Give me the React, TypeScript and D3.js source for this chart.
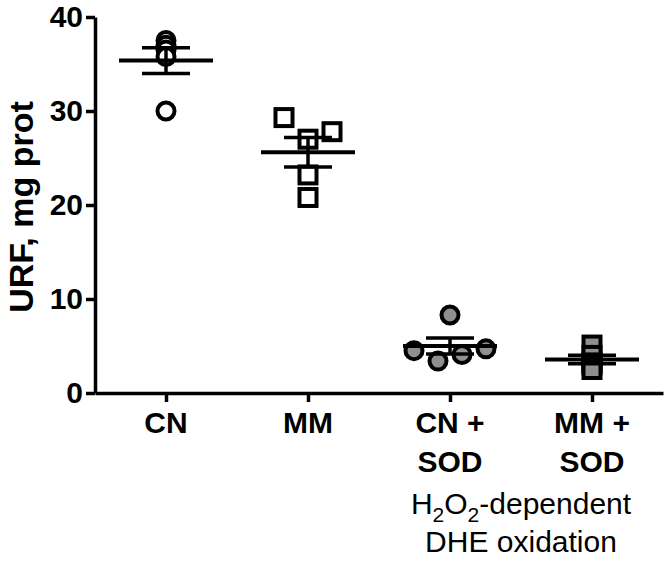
import * as d3 from "d3";
import { useEffect, useRef } from "react";

// groups along the x axis
const categories = ["CN", "MM", "CN + SOD", "MM + SOD"];
const categoryLines = [["CN"], ["MM"], ["CN +", "SOD"], ["MM +", "SOD"]];

// individual values (URF, mg prot)
const cnValues = [37.5, 37.0, 36.5, 35.8, 30.0];
const mmValues = [29.3, 27.8, 27.0, 23.2, 20.8];
const cnSodValues = [8.3, 4.5, 3.4, 4.1, 4.7];
const mmSodValues = [5.1, 4.0, 3.2, 3.0, 2.5];

// horizontal scatter slots (in marker widths) for overlapping points
const cnJitter = [0, 0, 0, 0, 0];
const mmJitter = [-1, 1, 0, 0, 0];
const cnSodJitter = [0, -1.5, -0.5, 0.5, 1.5];
const mmSodJitter = [0, 0, 0, 0, 0];

const yTicks = [0, 10, 20, 30, 40];

const groups = [
  { name: categories[0], values: cnValues, jitter: cnJitter, shape: "circle", fill: "#ffffff" },
  { name: categories[1], values: mmValues, jitter: mmJitter, shape: "square", fill: "#ffffff" },
  { name: categories[2], values: cnSodValues, jitter: cnSodJitter, shape: "circle", fill: "#8f8f8f" },
  { name: categories[3], values: mmSodValues, jitter: mmSodJitter, shape: "square", fill: "#8f8f8f" },
];

const App = () => {
  const ref = useRef(null);

  useEffect(() => {
    const svg = d3.select(ref.current);
    svg.selectAll("*").remove();

    const width = 666;
    const height = 562;
    const left = 95;
    const right = 663;
    const top = 17;
    const bottom = 393;
    const font = "'Liberation Sans', Arial, sans-serif";

    svg.attr("width", width).attr("height", height);

    const x = d3.scalePoint().domain(categories).range([left, right]).padding(0.5);
    const y = d3.scaleLinear().domain([0, 40]).range([bottom, top]);

    // y axis
    const yAxis = svg
      .append("g")
      .attr("transform", `translate(${left},0)`)
      .call(d3.axisLeft(y).tickValues(yTicks).tickSize(9).tickSizeOuter(0).tickPadding(3));
    yAxis.select(".domain").attr("stroke", "#000").attr("stroke-width", 3.5);
    yAxis.selectAll(".tick line").attr("stroke", "#000").attr("stroke-width", 3.5);
    yAxis
      .selectAll(".tick text")
      .attr("fill", "#000")
      .style("font-family", font)
      .style("font-size", "30px")
      .style("font-weight", "bold");

    // x axis
    const xAxis = svg
      .append("g")
      .attr("transform", `translate(0,${bottom})`)
      .call(d3.axisBottom(x).tickSize(9).tickSizeOuter(0).tickFormat(() => ""));
    xAxis.select(".domain").attr("stroke", "#000").attr("stroke-width", 3.5);
    xAxis.selectAll(".tick line").attr("stroke", "#000").attr("stroke-width", 3.5);

    // category labels (two lines for the SOD groups)
    categories.forEach((c, i) => {
      const t = svg
        .append("text")
        .attr("text-anchor", "middle")
        .style("font-family", font)
        .style("font-size", "30px")
        .style("font-weight", "bold");
      categoryLines[i].forEach((line, j) => {
        t.append("tspan").attr("x", x(c)).attr("y", 433 + j * 39).text(line);
      });
    });

    // y axis title
    svg
      .append("text")
      .attr("transform", `translate(33,${(top + bottom) / 2 + 2}) rotate(-90)`)
      .attr("text-anchor", "middle")
      .style("font-family", font)
      .style("font-size", "34px")
      .style("font-weight", "bold")
      .text("URF, mg prot");

    // annotation under the SOD groups
    const ax = (x(categories[2]) + x(categories[3])) / 2;
    const note = svg
      .append("text")
      .attr("x", ax)
      .attr("y", 514)
      .attr("text-anchor", "middle")
      .style("font-family", font)
      .style("font-size", "30px");
    note.append("tspan").text("H");
    note.append("tspan").attr("dy", 8).style("font-size", "21px").text("2");
    note.append("tspan").attr("dy", -8).text("O");
    note.append("tspan").attr("dy", 8).style("font-size", "21px").text("2");
    note.append("tspan").attr("dy", -8).text("-dependent");
    svg
      .append("text")
      .attr("x", ax)
      .attr("y", 552)
      .attr("text-anchor", "middle")
      .style("font-family", font)
      .style("font-size", "30px")
      .text("DHE oxidation");

    const slot = 24;
    const size = 17;

    groups.forEach((g) => {
      const cx = x(g.name);
      const pts = svg.append("g");
      g.values.forEach((v, i) => {
        const px = cx + g.jitter[i] * slot;
        const py = y(v);
        if (g.shape === "circle") {
          pts
            .append("circle")
            .attr("cx", px)
            .attr("cy", py)
            .attr("r", size / 2)
            .attr("fill", g.fill)
            .attr("stroke", "#000")
            .attr("stroke-width", 4);
        } else {
          pts
            .append("rect")
            .attr("x", px - size / 2)
            .attr("y", py - size / 2)
            .attr("width", size)
            .attr("height", size)
            .attr("fill", g.fill)
            .attr("stroke", "#000")
            .attr("stroke-width", 4);
        }
      });

      // mean +/- SEM
      const mean = d3.mean(g.values);
      const sem = d3.deviation(g.values) / Math.sqrt(g.values.length);
      const bars = svg.append("g").attr("stroke", "#000").attr("stroke-width", 3.5);
      bars.append("line").attr("x1", cx - 47).attr("x2", cx + 47).attr("y1", y(mean)).attr("y2", y(mean)).attr("stroke-width", 4);
      bars.append("line").attr("x1", cx).attr("x2", cx).attr("y1", y(mean - sem)).attr("y2", y(mean + sem));
      [mean - sem, mean + sem].forEach((e) => {
        bars.append("line").attr("x1", cx - 24).attr("x2", cx + 24).attr("y1", y(e)).attr("y2", y(e));
      });
    });
  }, []);

  return <svg ref={ref} style={{ position: "absolute", left: 0, top: 0, background: "#fff" }}></svg>;
};

export default App;
